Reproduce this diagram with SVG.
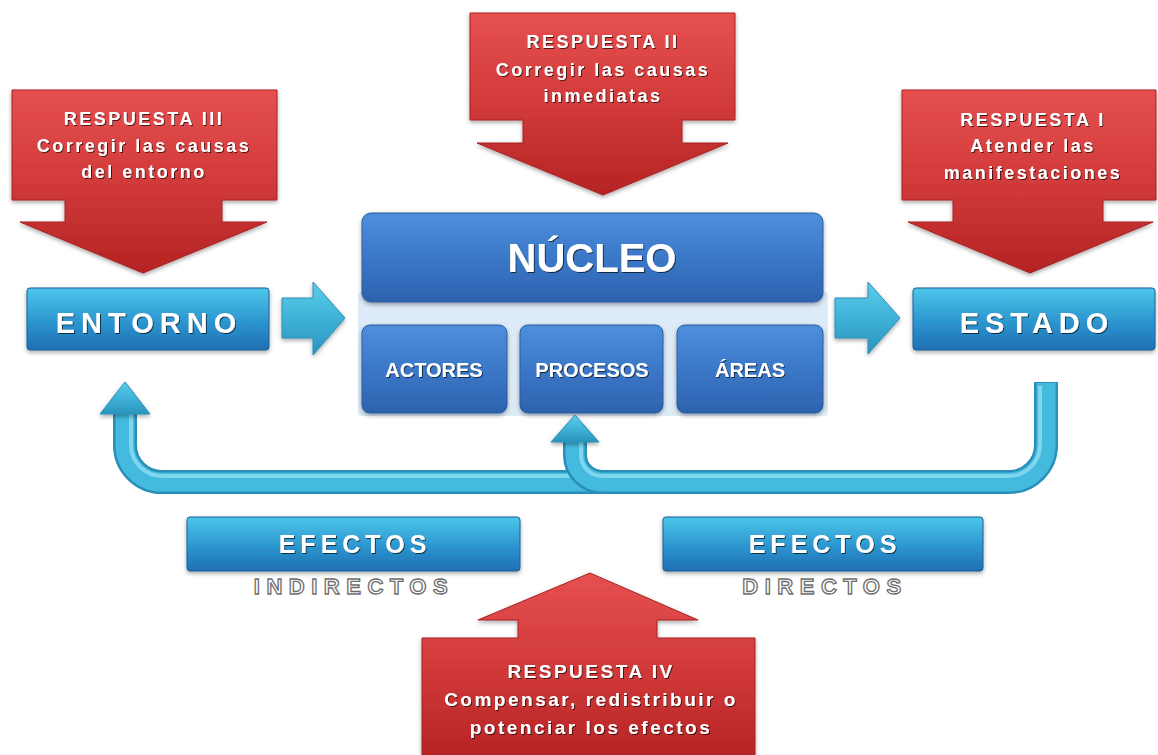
<svg xmlns="http://www.w3.org/2000/svg" width="1158" height="755" viewBox="0 0 1158 755">
<defs>
<linearGradient id="gRed" x1="0" y1="0" x2="0" y2="1">
<stop offset="0" stop-color="#e65050"/>
<stop offset="0.5" stop-color="#d23a3a"/>
<stop offset="1" stop-color="#b52323"/>
</linearGradient>
<linearGradient id="gCyan" x1="0" y1="0" x2="0" y2="1">
<stop offset="0" stop-color="#4cc6ea"/>
<stop offset="0.55" stop-color="#2c95cf"/>
<stop offset="1" stop-color="#1f6fb4"/>
</linearGradient>
<linearGradient id="gBlue" x1="0" y1="0" x2="0" y2="1">
<stop offset="0" stop-color="#4f8fdc"/>
<stop offset="0.5" stop-color="#3b78c8"/>
<stop offset="1" stop-color="#2d62ae"/>
</linearGradient>
<linearGradient id="gArrow" x1="0" y1="0" x2="0" y2="1">
<stop offset="0" stop-color="#5ccdea"/>
<stop offset="0.5" stop-color="#3fb2d8"/>
<stop offset="1" stop-color="#2a93bd"/>
</linearGradient>
<filter id="ts" x="-10%" y="-30%" width="120%" height="160%">
<feDropShadow dx="1" dy="1" stdDeviation="0.6" flood-color="#000" flood-opacity="0.65"/>
</filter>
<filter id="sh" x="-10%" y="-10%" width="120%" height="130%">
<feDropShadow dx="0" dy="2" stdDeviation="2" flood-color="#000" flood-opacity="0.35"/>
</filter>
</defs>
<style>
text{font-family:"Liberation Sans",Arial,sans-serif;text-anchor:middle}
.red{fill:url(#gRed);stroke:#a82020;stroke-width:1;filter:url(#sh)}
.rt{fill:#fff;font-weight:bold;font-size:18px;letter-spacing:2.5px;filter:url(#ts)}
.rt4{fill:#fff;font-weight:bold;font-size:19px;letter-spacing:2.5px;filter:url(#ts)}
.cyan{fill:url(#gCyan);stroke:#1d5f98;stroke-width:1;filter:url(#sh)}
.blue{fill:url(#gBlue);stroke:#2a5c9f;stroke-width:1;filter:url(#sh)}
.bt{fill:#fff;font-weight:bold;filter:url(#ts)}
.out{fill:#fff;stroke:#6e6e6e;stroke-width:1.3;font-size:22px;font-weight:bold;letter-spacing:6.5px}
.arr{fill:url(#gArrow);stroke:#2a8fb8;stroke-width:1;filter:url(#sh)}
.band1{fill:none;stroke:#2a8fb8;stroke-width:24}
.band2{fill:none;stroke:#44bade;stroke-width:19}
.band3{fill:none;stroke:#7fd6ee;stroke-width:4}
</style>

<g id="respuesta-iii">
<path class="red" d="M12 90 H277 V200 H222 V222 H267 L143 273 L20 222 H65 V200 H12 Z"/>
<text class="rt" x="144" y="125">RESPUESTA III</text>
<text class="rt" x="144" y="152">Corregir las causas</text>
<text class="rt" x="144" y="178">del entorno</text>
</g>

<g id="respuesta-ii">
<path class="red" d="M470 13 H735 V120 H682 V143 H728 L603 195 L477 143 H523 V120 H470 Z"/>
<text class="rt" x="603" y="48">RESPUESTA II</text>
<text class="rt" x="603" y="76">Corregir las causas</text>
<text class="rt" x="603" y="102">inmediatas</text>
</g>

<g id="respuesta-i">
<path class="red" d="M902 90 H1156 V200 H1103 V222 H1153 L1030 273 L908 222 H953 V200 H902 Z"/>
<text class="rt" x="1033" y="126">RESPUESTA I</text>
<text class="rt" x="1033" y="152">Atender las</text>
<text class="rt" x="1033" y="179">manifestaciones</text>
</g>

<g id="entorno">
<rect class="cyan" x="27" y="288" width="242" height="62" rx="3"/>
<text class="bt" x="149" y="333" font-size="29" letter-spacing="6">ENTORNO</text>
</g>

<g id="estado">
<rect class="cyan" x="913" y="288" width="242" height="62" rx="3"/>
<text class="bt" x="1037" y="333" font-size="29" letter-spacing="6">ESTADO</text>
</g>

<g id="nucleo">
<rect x="358" y="292" width="470" height="124" rx="4" fill="#dcebf7"/>
<rect class="blue" x="362" y="213" width="461" height="89" rx="9"/>
<text class="bt" x="592" y="272" font-size="40">NÚCLEO</text>
</g>

<g id="actores">
<rect class="blue" x="362" y="325" width="145" height="88" rx="8"/>
<text class="bt" x="434" y="377" font-size="20">ACTORES</text>
</g>

<g id="procesos">
<rect class="blue" x="520" y="325" width="143" height="88" rx="8"/>
<text class="bt" x="592" y="377" font-size="20">PROCESOS</text>
</g>

<g id="areas">
<rect class="blue" x="677" y="325" width="146" height="88" rx="8"/>
<text class="bt" x="750" y="377" font-size="20">ÁREAS</text>
</g>

<g id="efectos-indirectos">
<rect class="cyan" x="187" y="517" width="333" height="54" rx="3"/>
<text class="bt" x="355" y="553" font-size="25" letter-spacing="5">EFECTOS</text>
<text class="out" x="354" y="594">INDIRECTOS</text>
</g>

<g id="efectos-directos">
<rect class="cyan" x="663" y="517" width="320" height="54" rx="3"/>
<text class="bt" x="825" y="553" font-size="25" letter-spacing="5">EFECTOS</text>
<text class="out" x="825" y="594">DIRECTOS</text>
</g>

<g id="respuesta-iv">
<path class="red" d="M590 573 L698 620 H657 V638 H755 V760 H422 V638 H518 V620 H478 Z"/>
<text class="rt4" x="591" y="678">RESPUESTA IV</text>
<text class="rt4" x="591" y="706">Compensar, redistribuir o</text>
<text class="rt4" x="591" y="734">potenciar los efectos</text>
</g>

<g id="connectors">
<path class="arr" d="M282 298 H313 V282 L345 318 L313 355 V338 H282 Z"/>
<path class="arr" d="M835 298 H868 V282 L900 318 L868 354 V338 H835 Z"/>
<g id="feedback-entorno">
<path class="band1" d="M1046 382 V445 A37 37 0 0 1 1009 482 H162 A37 37 0 0 1 125 445 V412"/>
<path class="band2" d="M1046 383 V445 A37 37 0 0 1 1009 482 H162 A37 37 0 0 1 125 445 V412"/>
<path class="band3" d="M1040 386 V445 A31 31 0 0 1 1009 476 H162 A31 31 0 0 1 131 445 V414"/>
<path class="arr" d="M100 414 L125 382 L150 414 Z"/>
</g>
<g id="feedback-procesos">
<path class="band1" d="M1009 482 H602 A27 27 0 0 1 575 455 V440"/>
<path class="band2" d="M1009 482 H602 A27 27 0 0 1 575 455 V440"/>
<path class="band3" d="M1009 476 H602 A21 21 0 0 1 581 455 V442"/>
<path class="arr" d="M551 442 L575 415 L599 442 Z"/>
</g>
</g>
</svg>
